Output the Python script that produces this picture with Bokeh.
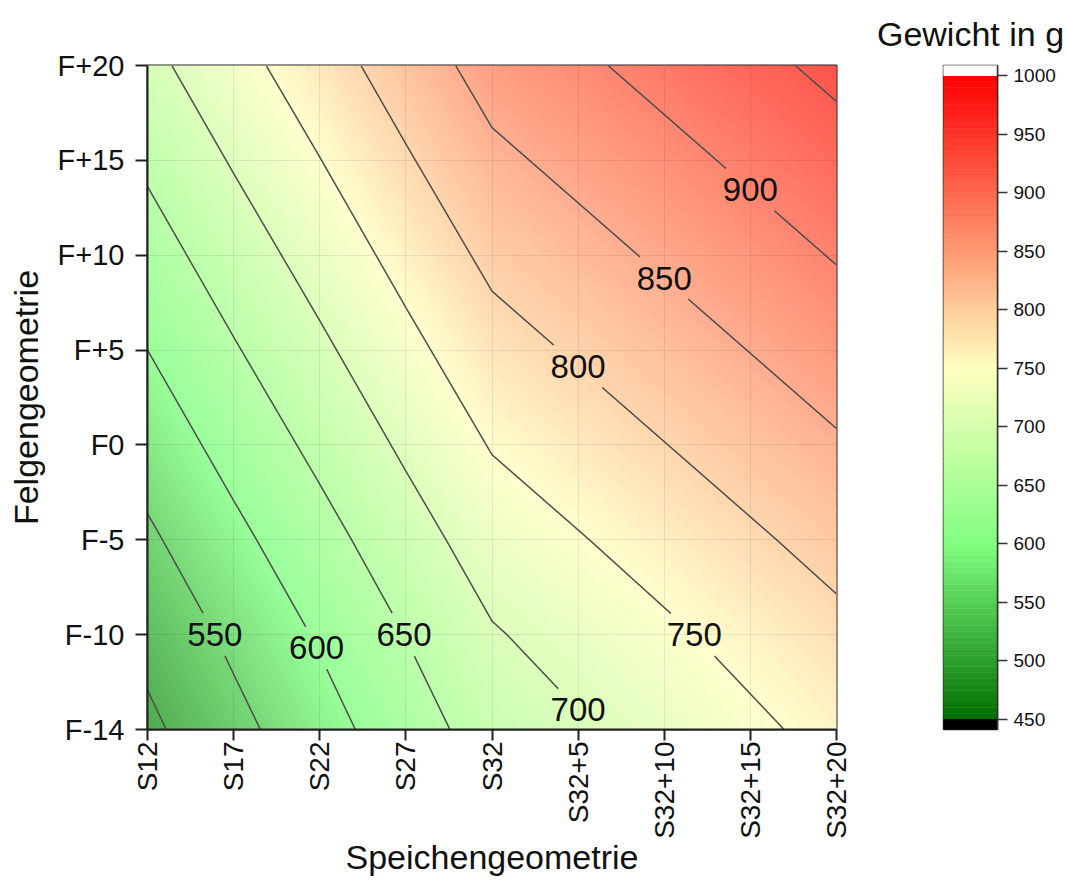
import numpy as np
from bokeh.plotting import figure
from bokeh.plotting.contour import contour_data
from bokeh.models import FixedTicker, ColumnDataSource
from bokeh.layouts import row
from bokeh.core.properties import value
from bokeh.embed import file_html
from bokeh.resources import INLINE

# ---------------- data ----------------
X_LABELS = ["S12", "S17", "S22", "S27", "S32", "S32+5", "S32+10", "S32+15", "S32+20"]
Y_LABELS = ["F-14", "F-10", "F-5", "F0", "F+5", "F+10", "F+15", "F+20"]

# weight in g, one list per rim geometry (row), columns follow X_LABELS
W_F_MINUS_14 = [490, 536, 581, 627, 672, 695, 718, 741, 764]
W_F_MINUS_10 = [514, 560, 605, 651, 696, 719, 742, 765, 788]
W_F_MINUS_5 = [542, 588, 633, 679, 724, 747, 770, 793, 816]
W_F_0 = [571, 617, 662, 708, 753, 776, 799, 822, 845]
W_F_PLUS_5 = [600, 646, 691, 737, 782, 805, 828, 851, 874]
W_F_PLUS_10 = [629, 675, 720, 766, 811, 834, 857, 880, 903]
W_F_PLUS_15 = [658, 704, 749, 795, 840, 863, 886, 909, 932]
W_F_PLUS_20 = [687, 733, 778, 824, 869, 892, 915, 938, 961]

CONTOUR_LEVELS = [500, 550, 600, 650, 700, 750, 800, 850, 900, 950]
LABEL_LEVELS = [550, 600, 650, 700, 750, 800, 850, 900]
LABEL_ALONG = ["y", "y", "y", "x", "y", "x", "x", "x"]
LABEL_AT = [1.0, 0.86, 1.0, 5.0, 1.0, 5.0, 6.0, 7.0]

COLORBAR_TICKS = [450, 500, 550, 600, 650, 700, 750, 800, 850, 900, 950, 1000]
COLOR_LOW, COLOR_HIGH, COLOR_STEP = 450, 1000, 5

# colormap anchors
CMAP_VALUES = [450, 600, 750, 1000]
CMAP_COLORS = [(0, 110, 0), (128, 255, 128), (255, 255, 192), (255, 0, 0)]

# ---------------- style ----------------
FONT = "Liberation Sans"
MAIN_W, MAIN_H = 856, 881
B_LEFT, B_TOP, B_BOTTOM, B_RIGHT = 147, 65, 152, 20
CB_LEFT, CB_FRAME, CB_RIGHT = 87, 54, 70
PLOT_ALPHA = 0.8
OVER_UNDER = 8.5
GAP_HALF_W, GAP_HALF_H = 31, 21


def cmap(v):
    return tuple(float(np.interp(v, CMAP_VALUES, [c[k] for c in CMAP_COLORS])) for k in range(3))


def blend(rgb, a):
    return tuple(a * c + (1 - a) * 255 for c in rgb)


def hexc(rgb):
    return "#%02x%02x%02x" % tuple(int(round(min(255, max(0, c)))) for c in rgb)


z = np.array([W_F_MINUS_14, W_F_MINUS_10, W_F_MINUS_5, W_F_0,
              W_F_PLUS_5, W_F_PLUS_10, W_F_PLUS_15, W_F_PLUS_20], dtype=float)
nx, ny = len(X_LABELS), len(Y_LABELS)
xi = np.arange(nx, dtype=float)
yi = np.arange(ny, dtype=float)

fill_levels = np.arange(COLOR_LOW, COLOR_HIGH + COLOR_STEP / 2, COLOR_STEP, dtype=float)
mids = (fill_levels[:-1] + fill_levels[1:]) / 2
bar_colors = [hexc(cmap(m)) for m in mids]
plot_colors = [hexc(blend(cmap(m), PLOT_ALPHA)) for m in mids]

# ---------------- main figure ----------------
p = figure(width=MAIN_W, height=MAIN_H,
           x_range=(0, nx - 1), y_range=(0, ny - 1),
           min_border_left=B_LEFT, min_border_right=B_RIGHT,
           min_border_top=B_TOP, min_border_bottom=B_BOTTOM,
           output_backend="svg", toolbar_location=None)
p.background_fill_color = "white"
p.border_fill_color = "white"

fd = contour_data(xi, yi, z, levels=fill_levels, want_fill=True, want_line=False).fill_data
fcolors = [plot_colors[int(round((lo - COLOR_LOW) / COLOR_STEP))] for lo in fd.lower_levels]
fsrc = ColumnDataSource(dict(xs=list(fd.xs), ys=list(fd.ys), color=fcolors))
p.multi_polygons(xs="xs", ys="ys", fill_color="color", line_color="color",
                 line_width=0.8, source=fsrc)

ld = contour_data(xi, yi, z, levels=CONTOUR_LEVELS, want_fill=False, want_line=True).line_data


def split_nan(xs, ys):
    out, cx, cy = [], [], []
    for a, b in zip(np.asarray(xs, float), np.asarray(ys, float)):
        if np.isnan(a) or np.isnan(b):
            if len(cx) > 1:
                out.append((cx, cy))
            cx, cy = [], []
        else:
            cx.append(a)
            cy.append(b)
    if len(cx) > 1:
        out.append((cx, cy))
    return out


pieces = {}
for lev, lx, ly in zip(ld.levels, ld.xs, ld.ys):
    pieces[int(round(lev))] = split_nan(lx, ly)


def anchor(level, along, at):
    for px, py in pieces.get(level, []):
        a = px if along == "x" else py
        for k in range(len(px) - 1):
            if a[k] != a[k + 1] and (a[k] - at) * (a[k + 1] - at) <= 0:
                t = (at - a[k]) / (a[k + 1] - a[k])
                return px[k] + t * (px[k + 1] - px[k]), py[k] + t * (py[k + 1] - py[k])
    return None, None


FRAME_W = MAIN_W - B_LEFT - B_RIGHT
FRAME_H = MAIN_H - B_TOP - B_BOTTOM
SX = FRAME_W / (nx - 1)
SY = FRAME_H / (ny - 1)
lab_x, lab_y, lab_t = [], [], []
for lev, along, at in zip(LABEL_LEVELS, LABEL_ALONG, LABEL_AT):
    ax, ay = anchor(lev, along, at)
    if ax is not None:
        lab_x.append(ax)
        lab_y.append(ay)
        lab_t.append(str(lev))


def inside(x, y):
    for ax, ay in zip(lab_x, lab_y):
        if abs((x - ax) * SX) < GAP_HALF_W and abs((y - ay) * SY) < GAP_HALF_H:
            return True
    return False


line_xs, line_ys = [], []
for lev in CONTOUR_LEVELS:
    for px, py in pieces.get(lev, []):
        cx, cy = [], []
        for k in range(len(px) - 1):
            L = np.hypot((px[k + 1] - px[k]) * SX, (py[k + 1] - py[k]) * SY)
            n = max(1, int(np.ceil(L / 0.5)))
            for s in range(n + (1 if k == len(px) - 2 else 0)):
                t = s / n
                x = px[k] + t * (px[k + 1] - px[k])
                y = py[k] + t * (py[k + 1] - py[k])
                if inside(x, y):
                    if len(cx) > 1:
                        line_xs.append(cx)
                        line_ys.append(cy)
                    cx, cy = [], []
                else:
                    cx.append(x)
                    cy.append(y)
        if len(cx) > 1:
            line_xs.append(cx)
            line_ys.append(cy)

p.multi_line(xs=line_xs, ys=line_ys, line_color="#4d4d4d", line_width=1.5)
p.text(x=lab_x, y=lab_y, text=lab_t, text_align="center", text_baseline="middle",
       text_font=value(FONT), text_font_size="33px", text_color="#111111")

p.xgrid.ticker = FixedTicker(ticks=list(range(nx)))
p.ygrid.ticker = FixedTicker(ticks=list(range(ny)))
p.grid.grid_line_color = "black"
p.grid.grid_line_alpha = 0.08
p.grid.level = "annotation"

p.xaxis.ticker = FixedTicker(ticks=list(range(nx)))
p.xaxis.major_label_overrides = {i: s for i, s in enumerate(X_LABELS)}
p.xaxis.major_label_orientation = np.pi / 2
p.yaxis.ticker = FixedTicker(ticks=list(range(ny)))
p.yaxis.major_label_overrides = {i: s for i, s in enumerate(Y_LABELS)}
p.xaxis.axis_label = "Speichengeometrie"
p.yaxis.axis_label = "Felgengeometrie"
for ax in (p.xaxis[0], p.yaxis[0]):
    ax.axis_label_text_font = FONT
    ax.axis_label_text_font_size = "34px"
    ax.axis_label_text_font_style = "normal"
    ax.axis_label_text_color = "#111111"
    ax.major_label_text_font = FONT
    ax.major_label_text_font_size = "29px"
    ax.major_label_text_color = "#111111"
    ax.major_tick_out = 12
    ax.major_tick_in = 0
    ax.minor_tick_out = 0
    ax.minor_tick_in = 0
    ax.major_tick_line_width = 2
    ax.major_tick_line_color = "#222222"
    ax.axis_line_width = 2
    ax.axis_line_color = "#222222"
p.xaxis.major_label_text_font_size = "28px"
p.xaxis.major_tick_out = 11
p.xaxis.major_label_standoff = 1
p.xaxis.axis_label_standoff = -4
p.yaxis.major_label_standoff = 11
p.yaxis.axis_label_standoff = 10
p.outline_line_color = "#222222"
p.outline_line_width = 2

# ---------------- colour bar ----------------
cb = figure(width=CB_LEFT + CB_FRAME + CB_RIGHT, height=MAIN_H,
            x_range=(0, 1), y_range=(COLOR_LOW - OVER_UNDER, COLOR_HIGH + OVER_UNDER),
            x_axis_location=None, y_axis_location="right",
            min_border_left=CB_LEFT, min_border_right=CB_RIGHT,
            min_border_top=B_TOP, min_border_bottom=B_BOTTOM,
            output_backend="svg", toolbar_location=None, title="Gewicht in g")
cb.quad(left=0, right=1, bottom=fill_levels[:-1], top=fill_levels[1:],
        fill_color=bar_colors, line_color=bar_colors, line_width=0.6)
cb.quad(left=[0], right=[1], bottom=[COLOR_LOW - OVER_UNDER], top=[COLOR_LOW],
        fill_color="black", line_color="black")
cb.quad(left=[0], right=[1], bottom=[COLOR_HIGH], top=[COLOR_HIGH + OVER_UNDER],
        fill_color="white", line_color="white")
cb.grid.visible = False
cb.outline_line_color = "#333333"
cb.outline_line_width = 1.5
ya = cb.yaxis[0]
ya.ticker = FixedTicker(ticks=COLORBAR_TICKS)
ya.major_tick_out = 10
ya.major_tick_in = 0
ya.minor_tick_out = 0
ya.minor_tick_in = 0
ya.major_tick_line_width = 1.5
ya.major_tick_line_color = "#333333"
ya.axis_line_color = "#333333"
ya.axis_line_width = 1.5
ya.major_label_text_font = FONT
ya.major_label_text_font_size = "19px"
ya.major_label_text_color = "#111111"
ya.major_label_standoff = 6
cb.title.align = "center"
cb.title.text_font = FONT
cb.title.text_font_size = "34px"
cb.title.text_font_style = "normal"
cb.title.text_color = "#111111"
cb.title.standoff = 25

layout = row(p, cb)
open("out.html", "w").write(file_html(layout, INLINE))
